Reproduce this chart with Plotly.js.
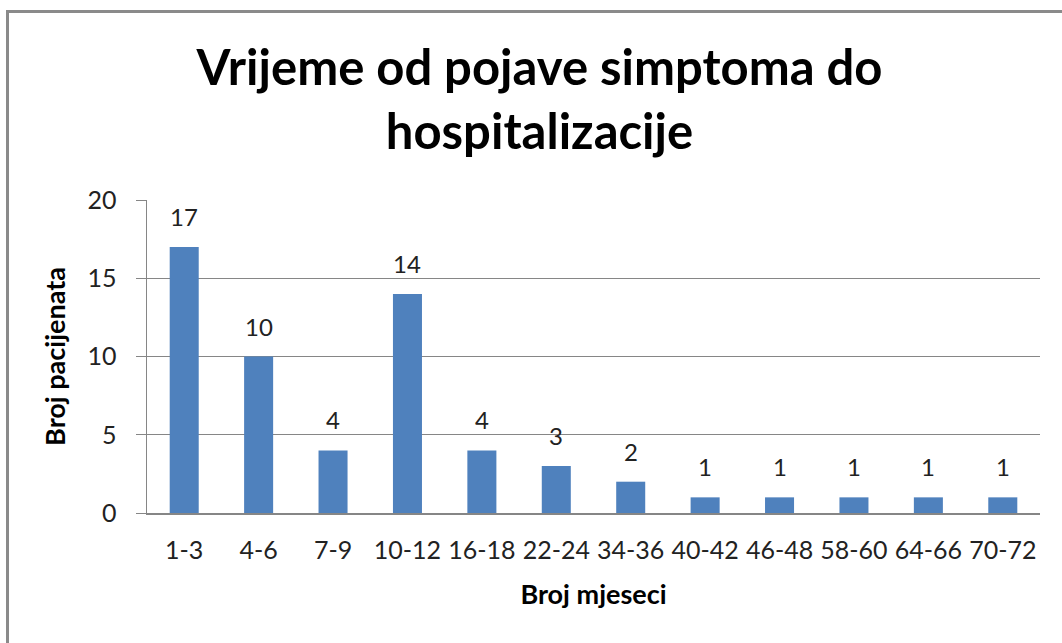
<!DOCTYPE html>
<html>
<head>
<meta charset="utf-8">
<script src="https://cdn.plot.ly/plotly-3.0.1.min.js"></script>
<style>
  html, body { margin:0; padding:0; background:#fff; }
  #wrap { position:relative; width:1062px; height:643px; overflow:hidden; }
  #chart { position:absolute; left:0; top:0; width:1062px; height:643px; }
  #frame { position:absolute; left:6px; top:10px; width:1100px; height:700px;
           border-left:3px solid #8a8a8a; border-top:3px solid #8a8a8a; pointer-events:none; }
</style>
</head>
<body>
<div id="wrap">
  <div id="chart"></div>
  <div id="frame"></div>
</div>
<script>
const categories = ["1-3","4-6","7-9","10-12","16-18","22-24","34-36","40-42","46-48","58-60","64-66","70-72"];
const patients = [17, 10, 4, 14, 4, 3, 2, 1, 1, 1, 1, 1];
const titleText = "Vrijeme od pojave simptoma do<br>hospitalizacije";
const xTitle = "Broj mjeseci";
const yTitle = "Broj pacijenata";

const FONT = "Lato, 'Open Sans', sans-serif";

const trace = {
  type: "bar",
  x: categories,
  y: patients,
  marker: { color: "#4f81bd" },
  hoverinfo: "x+y"
};

const labels = categories.map((c, i) => ({
  x: c, y: patients[i], xref: "x", yref: "y",
  text: String(patients[i]), showarrow: false,
  yanchor: "bottom", yshift: 14,
  font: { family: FONT, size: 24, color: "#222" }
}));

const layout = {
  width: 1062, height: 643,
  paper_bgcolor: "#fff", plot_bgcolor: "#fff",
  margin: { l: 147, r: 22, t: 200, b: 130 },
  showlegend: false,
  bargap: 0.61,
  annotations: labels,
  title: {
    text: titleText,
    font: { family: FONT, size: 49, color: "#000", weight: "bold" },
    x: 0.508, xanchor: "center",
    y: 0.868, yanchor: "middle", yref: "container"
  },
  xaxis: {
    type: "category",
    showline: true, linecolor: "#868686", linewidth: 1.5,
    ticks: "", showgrid: false,
    tickfont: { family: FONT, size: 25, color: "#222" },
    ticklabelstandoff: 14,
    title: { text: xTitle, font: { family: FONT, size: 27, color: "#000", weight: "bold" }, standoff: 22 }
  },
  yaxis: {
    range: [0, 20], dtick: 5, tick0: 0,
    showline: true, linecolor: "#868686", linewidth: 1.5,
    showgrid: true, gridcolor: "#868686", gridwidth: 1.2,
    zeroline: false,
    ticks: "outside", ticklen: 10, tickcolor: "#868686",
    tickfont: { family: FONT, size: 25, color: "#222" },
    ticklabelstandoff: 14,
    title: { text: yTitle, font: { family: FONT, size: 27, color: "#000", weight: "bold" }, standoff: 14 }
  }
};

Plotly.newPlot("chart", [trace], layout, { displayModeBar: false, staticPlot: true });
</script>
</body>
</html>
